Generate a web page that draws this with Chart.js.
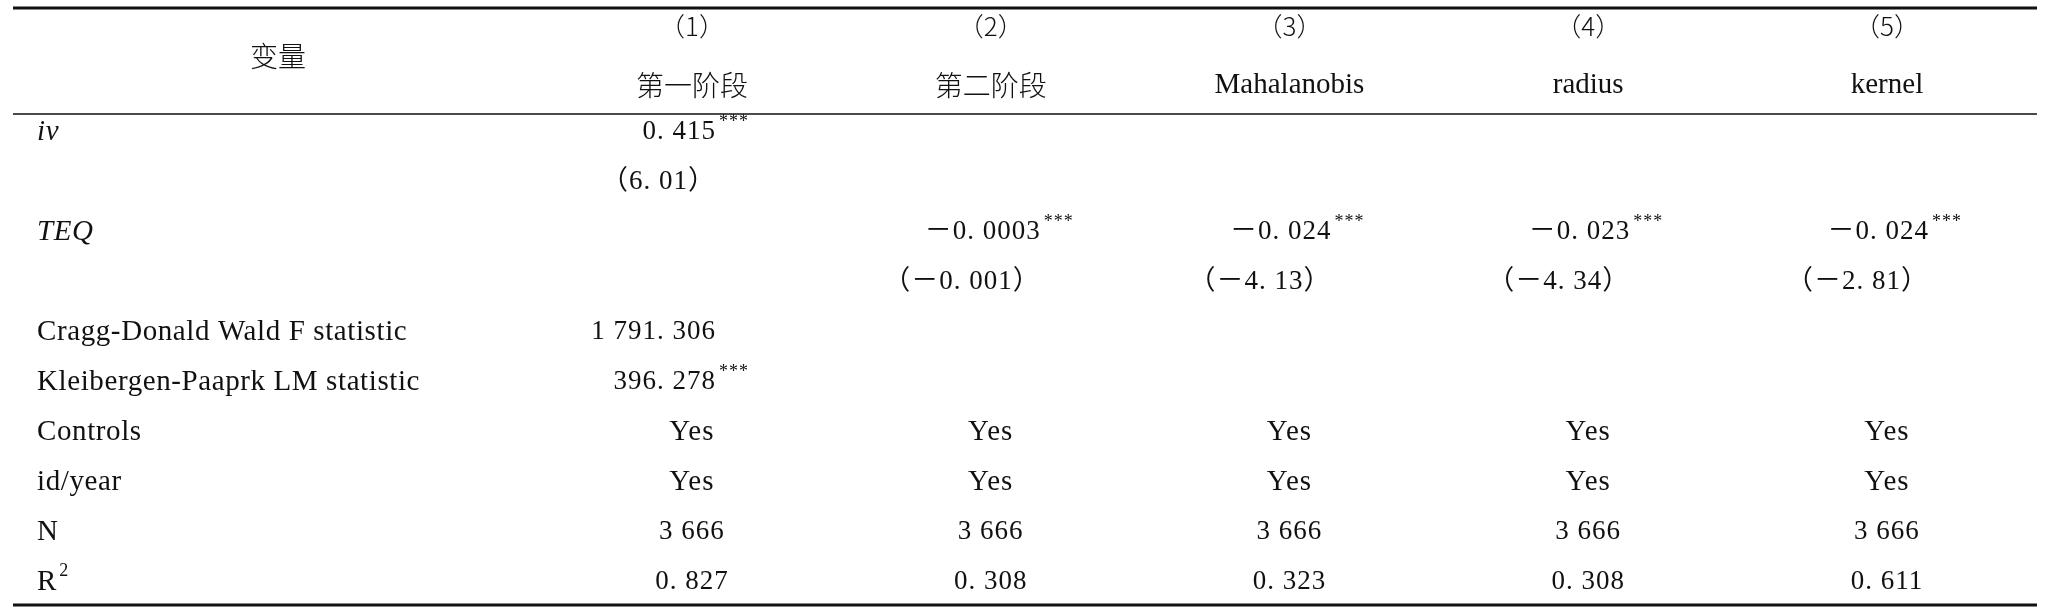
<!DOCTYPE html>
<html>
<head>
<meta charset="utf-8">
<script src="https://cdn.jsdelivr.net/npm/chart.js"></script>
<style>
html,body{margin:0;padding:0;background:#fff;}
#wrap{width:2048px;height:608px;}
</style>
</head>
<body>
<div id="wrap"><canvas id="mycanvas"></canvas></div>
<script>
var headerLabel = '变量';
var colNums = ['（1）', '（2）', '（3）', '（4）', '（5）'];
var colNames = ['第一阶段', '第二阶段', 'Mahalanobis', 'radius', 'kernel'];
var rowLabels = ['iv', '', 'TEQ', '', 'Cragg-Donald Wald F statistic', 'Kleibergen-Paaprk LM statistic', 'Controls', 'id/year', 'N', 'R2'];
var italicRows = [0, 2];
var col1 = ['0.415***', '(6.01)', '', '', '1 791.306', '396.278***', 'Yes', 'Yes', '3 666', '0.827'];
var col2 = ['', '', '-0.0003***', '(-0.001)', '', '', 'Yes', 'Yes', '3 666', '0.308'];
var col3 = ['', '', '-0.024***', '(-4.13)', '', '', 'Yes', 'Yes', '3 666', '0.323'];
var col4 = ['', '', '-0.023***', '(-4.34)', '', '', 'Yes', 'Yes', '3 666', '0.308'];
var col5 = ['', '', '-0.024***', '(-2.81)', '', '', 'Yes', 'Yes', '3 666', '0.611'];
var columns = [col1, col2, col3, col4, col5];

var serif = '"Liberation Serif", "Noto Sans CJK SC", serif';
var cjk = '"Noto Sans CJK SC", "Liberation Serif", serif';
var rightOffset = [24, 50, 42, 42, 42];

function fmt(s) {
	return s.replace(/-/g, '－').replace(/\(/g, '（').replace(/\)/g, '）').replace(/\./g, '. ');
}

var points = [];
columns.forEach(function(col, c) {
	col.forEach(function(v, r) { if (v) points.push({x: c + 1, y: r}); });
});

var tablePlugin = {
	id: 'table',
	afterDraw: function(chart) {
		var ctx = chart.ctx, xs = chart.scales.x, ys = chart.scales.y;
		var L = 13, R = 2037;
		ctx.save();
		ctx.fillStyle = '#111';
		ctx.strokeStyle = '#111';
		// rules
		[[-2.48, 3], [-0.36, 1.5], [9.46, 3]].forEach(function(l) {
			ctx.lineWidth = l[1];
			ctx.beginPath();
			ctx.moveTo(L, ys.getPixelForValue(l[0]));
			ctx.lineTo(R, ys.getPixelForValue(l[0]));
			ctx.stroke();
		});
		ctx.textBaseline = 'middle';
		ctx.textAlign = 'center';
		ctx.font = '300 28px ' + cjk;
		ctx.fillText(headerLabel, 278, ys.getPixelForValue(-1.52));
		colNums.forEach(function(t, i) {
			var x = xs.getPixelForValue(i + 1);
			ctx.font = '300 26px ' + cjk;
			ctx.fillText(t, x, ys.getPixelForValue(-2.12));
			ctx.font = (i < 2 ? '300 28px ' + cjk : '29px ' + serif);
			ctx.fillText(colNames[i], x, ys.getPixelForValue(-0.94));
		});
		// row labels
		ctx.textAlign = 'left';
		ctx.letterSpacing = '0.6px';
		rowLabels.forEach(function(t, r) {
			var y = ys.getPixelForValue(r);
			if (t === 'R2') {
				ctx.font = '29px ' + serif;
				ctx.fillText('R', 37, y);
				ctx.font = '18px ' + serif;
				ctx.fillText('2', 37 + ctx.measureText('R').width * 1.6 + 2, y - 11);
				return;
			}
			ctx.font = (italicRows.indexOf(r) >= 0 ? 'italic ' : '') + '29px ' + serif;
			ctx.fillText(t, 37, y);
		});
		ctx.letterSpacing = '1px';
		// cells
		columns.forEach(function(col, c) {
			var cx = xs.getPixelForValue(c + 1);
			col.forEach(function(v, r) {
				if (!v) return;
				var y = ys.getPixelForValue(r);
				var parts = v.split(/(\*+)/);
				var main = parts[0], stars = parts[1] || '';
				if (/^(Yes|No)$/.test(main)) ctx.font = '29px ' + serif;
				else ctx.font = '27px ' + serif;
				if (r >= 6) {
					ctx.textAlign = 'center';
					ctx.fillText(fmt(main), cx, y);
				} else {
					ctx.textAlign = 'right';
					ctx.fillText(fmt(main), cx + rightOffset[c], y);
					if (stars) {
						ctx.textAlign = 'left';
						ctx.font = '18px ' + serif;
						ctx.fillText(stars, cx + rightOffset[c] + 3, y - 10);
					}
				}
			});
		});
		ctx.restore();
	}
};

var ctx = document.getElementById('mycanvas');
var table = new Chart(ctx, {
	type: 'scatter',
	data: { datasets: [{ data: points, pointRadius: 0, pointHoverRadius: 0 }] },
	options: {
		responsive: true,
		maintainAspectRatio: false,
		animation: false,
		layout: { padding: 0 },
		plugins: { legend: { display: false }, tooltip: { enabled: false } },
		scales: {
			x: { type: 'linear', display: false, min: -1.316, max: 5.539 },
			y: { type: 'linear', display: false, reverse: true, min: -2.64, max: 9.52 }
		}
	},
	plugins: [tablePlugin]
});
</script>
</body>
</html>
